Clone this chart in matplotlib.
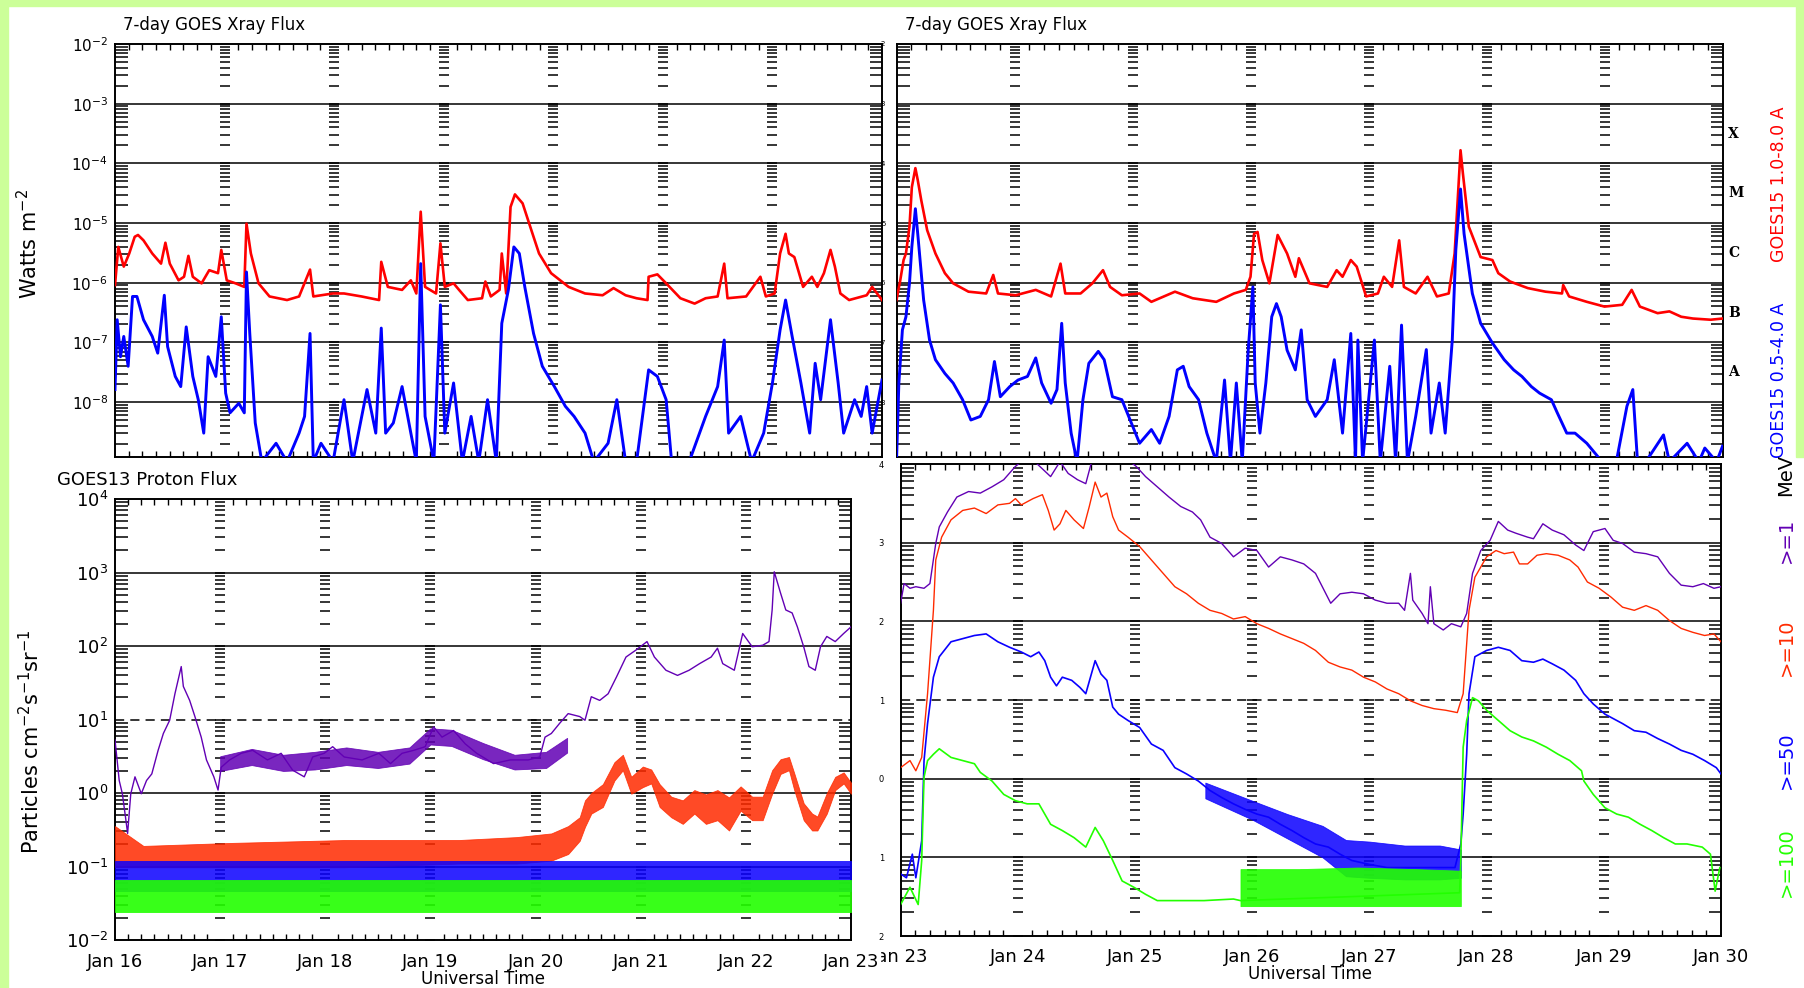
import numpy as np
import matplotlib.pyplot as plt
from matplotlib.patches import Rectangle
from matplotlib.ticker import FixedLocator, MultipleLocator

# (days since panel start, log10 of flux)
tl_red = [(0, -6.04), (0.03, -5.40), (0.08, -5.73), (0.13, -5.51), (0.18, -5.23), (0.21, -5.20),
          (0.26, -5.29), (0.34, -5.51), (0.42, -5.68), (0.46, -5.33), (0.50, -5.68), (0.58, -5.96),
          (0.63, -5.90), (0.67, -5.55), (0.71, -5.90), (0.79, -6.01), (0.86, -5.79), (0.94, -5.84),
          (0.97, -5.45), (1.02, -5.96), (1.10, -6.01), (1.18, -6.07), (1.20, -5.01), (1.24, -5.51),
          (1.31, -6.01), (1.41, -6.23), (1.57, -6.29), (1.68, -6.23), (1.78, -5.78), (1.81, -6.23),
          (1.99, -6.18), (2.09, -6.18), (2.25, -6.23), (2.41, -6.29), (2.43, -5.65), (2.49, -6.07),
          (2.62, -6.12), (2.70, -5.96), (2.75, -6.18), (2.79, -4.81), (2.83, -6.07), (2.93, -6.18),
          (2.97, -5.34), (3.01, -6.07), (3.09, -6.01), (3.14, -6.12), (3.22, -6.29), (3.35, -6.26),
          (3.38, -5.98), (3.43, -6.23), (3.51, -6.12), (3.53, -5.51), (3.57, -6.18), (3.61, -4.73),
          (3.65, -4.52), (3.72, -4.67), (3.80, -5.12), (3.87, -5.51), (3.98, -5.84), (4.14, -6.07),
          (4.29, -6.18), (4.45, -6.21), (4.55, -6.09), (4.66, -6.21), (4.76, -6.26), (4.86, -6.29),
          (4.87, -5.90), (4.95, -5.86), (5.03, -6.01), (5.16, -6.26), (5.29, -6.35), (5.39, -6.26),
          (5.50, -6.23), (5.56, -5.68), (5.59, -6.26), (5.76, -6.23), (5.89, -5.90), (5.94, -6.23),
          (6.02, -6.18), (6.07, -5.51), (6.12, -5.18), (6.15, -5.51), (6.20, -5.57), (6.28, -6.07),
          (6.36, -5.90), (6.41, -6.07), (6.47, -5.84), (6.53, -5.45), (6.57, -5.73), (6.62, -6.18),
          (6.70, -6.29), (6.86, -6.21), (6.91, -6.07), (7.0, -6.29)]

tl_blue = [(0, -7.79), (0.02, -6.62), (0.05, -7.24), (0.08, -6.90), (0.12, -7.40), (0.16, -6.23),
           (0.20, -6.23), (0.26, -6.62), (0.34, -6.90), (0.39, -7.18), (0.45, -6.21), (0.48, -7.07),
           (0.55, -7.57), (0.60, -7.74), (0.65, -6.74), (0.71, -7.57), (0.76, -7.96), (0.81, -8.52),
           (0.85, -7.24), (0.92, -7.57), (0.97, -6.57), (1.01, -7.85), (1.05, -8.18), (1.13, -8.02),
           (1.18, -8.18), (1.20, -5.82), (1.23, -6.85), (1.28, -8.35), (1.34, -9.0), (1.47, -8.69),
           (1.57, -9.0), (1.68, -8.52), (1.73, -8.24), (1.78, -6.85), (1.81, -9.0), (1.88, -8.69),
           (1.99, -9.0), (2.09, -7.96), (2.17, -9.0), (2.30, -7.79), (2.38, -8.52), (2.43, -6.76),
           (2.47, -8.52), (2.54, -8.35), (2.62, -7.74), (2.70, -8.52), (2.75, -9.0), (2.79, -5.68),
           (2.83, -8.24), (2.91, -9.0), (2.97, -6.37), (3.01, -8.52), (3.09, -7.68), (3.17, -9.0),
           (3.25, -8.24), (3.32, -9.0), (3.40, -7.96), (3.48, -9.0), (3.53, -6.68), (3.59, -6.12),
           (3.64, -5.40), (3.69, -5.51), (3.74, -6.07), (3.82, -6.85), (3.90, -7.40), (4.01, -7.74),
           (4.11, -8.07), (4.19, -8.24), (4.29, -8.52), (4.37, -9.0), (4.50, -8.69), (4.58, -7.96),
           (4.66, -9.0), (4.76, -9.0), (4.87, -7.46), (4.95, -7.57), (5.03, -7.96), (5.08, -9.0),
           (5.24, -9.0), (5.39, -8.24), (5.50, -7.74), (5.56, -6.96), (5.60, -8.52), (5.71, -8.24),
           (5.81, -9.0), (5.92, -8.52), (6.00, -7.68), (6.07, -6.79), (6.12, -6.29), (6.18, -6.90),
           (6.26, -7.68), (6.34, -8.52), (6.39, -7.35), (6.44, -7.96), (6.53, -6.62), (6.60, -7.68),
           (6.65, -8.52), (6.75, -7.96), (6.81, -8.24), (6.86, -7.74), (6.91, -8.52), (7.0, -7.63)]

tr_red = [(0, -6.29), (0.03, -5.98), (0.06, -5.62), (0.08, -5.51), (0.11, -5.06), (0.13, -4.40),
          (0.16, -4.08), (0.18, -4.28), (0.21, -4.62), (0.26, -5.12), (0.33, -5.51), (0.41, -5.84),
          (0.48, -6.01), (0.61, -6.15), (0.76, -6.18), (0.82, -5.87), (0.86, -6.18), (1.01, -6.21),
          (1.18, -6.12), (1.31, -6.23), (1.39, -5.68), (1.43, -6.18), (1.56, -6.18), (1.66, -6.01),
          (1.75, -5.79), (1.81, -6.07), (1.91, -6.21), (2.06, -6.18), (2.16, -6.32), (2.36, -6.15),
          (2.51, -6.26), (2.71, -6.32), (2.86, -6.18), (2.96, -6.12), (3.00, -5.90), (3.03, -5.18),
          (3.06, -5.15), (3.10, -5.62), (3.16, -6.01), (3.23, -5.20), (3.31, -5.51), (3.38, -5.90),
          (3.41, -5.59), (3.50, -6.01), (3.65, -6.07), (3.73, -5.79), (3.78, -5.90), (3.85, -5.62),
          (3.90, -5.73), (3.98, -6.23), (4.08, -6.18), (4.13, -5.90), (4.20, -6.07), (4.26, -5.29),
          (4.30, -6.07), (4.40, -6.18), (4.50, -5.90), (4.58, -6.23), (4.68, -6.18), (4.73, -5.51),
          (4.78, -3.78), (4.80, -4.17), (4.85, -5.06), (4.95, -5.57), (5.05, -5.62), (5.10, -5.84),
          (5.20, -5.98), (5.35, -6.09), (5.50, -6.15), (5.64, -6.18), (5.65, -6.04), (5.70, -6.23),
          (5.85, -6.32), (6.00, -6.40), (6.15, -6.37), (6.23, -6.12), (6.30, -6.40), (6.45, -6.51),
          (6.55, -6.48), (6.65, -6.57), (6.75, -6.60), (6.90, -6.62), (7.0, -6.60)]

tr_blue = [(0, -9.0), (0.02, -7.68), (0.05, -6.79), (0.08, -6.57), (0.11, -6.01), (0.13, -5.40),
           (0.16, -4.76), (0.18, -5.18), (0.23, -6.29), (0.28, -6.96), (0.33, -7.29), (0.41, -7.52),
           (0.48, -7.68), (0.56, -7.96), (0.63, -8.30), (0.71, -8.24), (0.78, -7.96), (0.83, -7.32),
           (0.88, -7.91), (0.96, -7.74), (1.03, -7.63), (1.11, -7.57), (1.18, -7.26), (1.23, -7.68),
           (1.31, -8.02), (1.36, -7.79), (1.40, -6.68), (1.43, -7.68), (1.48, -8.52), (1.53, -9.0),
           (1.58, -7.96), (1.63, -7.35), (1.71, -7.15), (1.76, -7.29), (1.83, -7.91), (1.91, -7.96),
           (1.98, -8.30), (2.06, -8.69), (2.16, -8.46), (2.23, -8.69), (2.31, -8.24), (2.38, -7.46),
           (2.43, -7.40), (2.48, -7.74), (2.56, -7.96), (2.63, -8.52), (2.71, -9.0), (2.78, -7.63),
           (2.83, -9.0), (2.88, -7.68), (2.93, -9.0), (2.98, -7.15), (3.02, -6.07), (3.04, -7.68),
           (3.08, -8.52), (3.13, -7.68), (3.18, -6.57), (3.22, -6.35), (3.26, -6.57), (3.31, -7.13),
           (3.38, -7.46), (3.43, -6.79), (3.48, -7.96), (3.55, -8.24), (3.65, -7.96), (3.71, -7.29),
           (3.78, -8.52), (3.85, -6.85), (3.89, -9.0), (3.91, -6.96), (3.95, -9.0), (4.05, -6.96),
           (4.10, -9.0), (4.18, -7.40), (4.23, -9.0), (4.28, -6.71), (4.33, -9.0), (4.40, -8.24),
           (4.49, -7.12), (4.53, -8.52), (4.60, -7.68), (4.65, -8.52), (4.71, -6.96), (4.74, -5.45),
           (4.78, -4.43), (4.81, -5.18), (4.88, -6.18), (4.95, -6.68), (5.05, -7.01), (5.15, -7.29),
           (5.23, -7.46), (5.30, -7.57), (5.38, -7.74), (5.45, -7.85), (5.55, -7.96), (5.60, -8.18),
           (5.68, -8.52), (5.75, -8.52), (5.85, -8.69), (5.98, -9.0), (6.10, -9.0), (6.19, -8.07),
           (6.24, -7.79), (6.28, -9.0), (6.35, -9.0), (6.50, -8.55), (6.55, -9.0), (6.70, -8.69),
           (6.80, -9.0), (6.85, -8.77), (6.95, -9.0), (7.0, -8.74)]

bl_purple = [(0, 0.72), (0.02, 0.45), (0.04, 0.17), (0.07, -0.01), (0.10, -0.33), (0.12, -0.55),
             (0.15, -0.01), (0.19, 0.22), (0.25, -0.01), (0.30, 0.17), (0.35, 0.26), (0.41, 0.58),
             (0.46, 0.81), (0.52, 0.99), (0.57, 1.35), (0.63, 1.72), (0.65, 1.45), (0.71, 1.26),
             (0.76, 1.04), (0.82, 0.76), (0.87, 0.45), (0.94, 0.22), (0.98, 0.04), (1.01, 0.35),
             (1.09, 0.45), (1.20, 0.54), (1.31, 0.58), (1.45, 0.45), (1.58, 0.54), (1.69, 0.31),
             (1.80, 0.22), (1.88, 0.49), (1.99, 0.54), (2.07, 0.63), (2.18, 0.49), (2.35, 0.45),
             (2.51, 0.54), (2.62, 0.40), (2.73, 0.54), (2.84, 0.58), (2.95, 0.63), (3.03, 0.90),
             (3.11, 0.76), (3.22, 0.85), (3.33, 0.67), (3.44, 0.54), (3.60, 0.40), (3.76, 0.45),
             (3.93, 0.45), (4.04, 0.49), (4.09, 0.76), (4.15, 0.81), (4.23, 0.95), (4.31, 1.08),
             (4.42, 1.04), (4.47, 0.99), (4.53, 1.31), (4.61, 1.26), (4.69, 1.35), (4.77, 1.58),
             (4.86, 1.85), (4.96, 1.95), (5.06, 2.06), (5.13, 1.85), (5.24, 1.67), (5.35, 1.60),
             (5.46, 1.67), (5.56, 1.76), (5.67, 1.85), (5.73, 1.97), (5.78, 1.76), (5.89, 1.67),
             (5.97, 2.17), (6.06, 1.99), (6.16, 2.01), (6.22, 2.06), (6.25, 2.49), (6.27, 3.01),
             (6.33, 2.72), (6.38, 2.49), (6.44, 2.45), (6.49, 2.26), (6.55, 1.99), (6.60, 1.72),
             (6.66, 1.67), (6.71, 1.99), (6.77, 2.13), (6.85, 2.06), (6.93, 2.17), (7.0, 2.26)]

# noisy stretches of the proton traces: (day, low, high) in log10
bl_purple_band = [(1.0, 0.30, 0.50), (1.3, 0.38, 0.60), (1.6, 0.30, 0.52), (1.9, 0.32, 0.56),
                  (2.2, 0.38, 0.62), (2.5, 0.34, 0.56), (2.8, 0.40, 0.62), (3.0, 0.66, 0.88),
                  (3.2, 0.64, 0.86), (3.5, 0.46, 0.68), (3.8, 0.32, 0.52), (4.1, 0.34, 0.56),
                  (4.3, 0.55, 0.75)]

bl_red_band = [(0, -1.01, -0.45), (0.27, -1.01, -0.72), (1.09, -1.01, -0.68), (2.18, -1.01, -0.64),
               (3.27, -0.96, -0.64), (3.82, -0.96, -0.60), (4.15, -0.92, -0.55), (4.31, -0.83, -0.45),
               (4.42, -0.65, -0.33), (4.47, -0.46, -0.10), (4.53, -0.28, 0.00), (4.64, -0.19, 0.12),
               (4.75, 0.17, 0.42), (4.83, 0.31, 0.52), (4.91, -0.01, 0.22), (5.02, 0.08, 0.36),
               (5.10, 0.13, 0.32), (5.18, -0.19, 0.12), (5.29, -0.33, -0.05), (5.40, -0.42, -0.10),
               (5.51, -0.28, 0.04), (5.62, -0.42, -0.02), (5.73, -0.37, 0.04), (5.84, -0.51, -0.06),
               (5.95, -0.24, 0.09), (6.06, -0.37, -0.05), (6.16, -0.37, -0.05), (6.25, -0.01, 0.31),
               (6.33, 0.26, 0.46), (6.41, 0.31, 0.49), (6.46, 0.04, 0.27), (6.55, -0.37, -0.14),
               (6.63, -0.51, -0.28), (6.68, -0.51, -0.32), (6.77, -0.28, 0.00), (6.85, 0.04, 0.22),
               (6.93, 0.13, 0.28), (7.0, -0.01, 0.14)]

bl_blue_band = [(0, -1.33, -0.92), (3.5, -1.33, -0.92), (7.0, -1.33, -0.92)]
bl_green_band = [(0, -1.62, -1.19), (3.5, -1.62, -1.19), (7.0, -1.62, -1.19)]

br_purple = [(0, 2.23), (0.03, 2.48), (0.08, 2.42), (0.13, 2.44), (0.20, 2.42), (0.25, 2.48),
             (0.30, 2.99), (0.33, 3.20), (0.40, 3.39), (0.48, 3.58), (0.58, 3.65), (0.68, 3.63),
             (0.78, 3.71), (0.88, 3.80), (0.98, 3.97), (1.03, 4.03), (1.13, 4.05), (1.28, 3.84),
             (1.36, 4.03), (1.43, 3.88), (1.51, 3.80), (1.58, 3.75), (1.63, 4.03), (1.73, 4.05),
             (1.94, 4.05), (2.01, 3.97), (2.09, 3.84), (2.19, 3.71), (2.29, 3.58), (2.39, 3.46),
             (2.49, 3.39), (2.56, 3.29), (2.64, 3.07), (2.74, 2.99), (2.84, 2.82), (2.94, 2.93),
             (3.04, 2.90), (3.14, 2.69), (3.24, 2.82), (3.34, 2.78), (3.44, 2.73), (3.54, 2.61),
             (3.67, 2.23), (3.75, 2.35), (3.85, 2.37), (3.95, 2.35), (4.05, 2.27), (4.15, 2.23),
             (4.25, 2.23), (4.30, 2.14), (4.35, 2.61), (4.37, 2.27), (4.45, 2.10), (4.50, 1.97),
             (4.52, 2.44), (4.55, 1.97), (4.63, 1.89), (4.70, 1.97), (4.78, 1.93), (4.83, 2.10),
             (4.88, 2.61), (4.95, 2.90), (5.03, 3.03), (5.10, 3.27), (5.18, 3.16), (5.25, 3.12),
             (5.35, 3.07), (5.40, 3.05), (5.48, 3.24), (5.56, 3.16), (5.66, 3.10), (5.76, 2.97),
             (5.83, 2.90), (5.91, 3.14), (6.01, 3.18), (6.08, 3.03), (6.16, 2.99), (6.26, 2.88),
             (6.36, 2.86), (6.46, 2.82), (6.56, 2.61), (6.66, 2.46), (6.76, 2.44), (6.85, 2.48),
             (6.94, 2.42), (7.0, 2.44)]

br_red = [(0, 0.14), (0.08, 0.23), (0.13, 0.10), (0.18, 0.27), (0.23, 1.08), (0.28, 2.14),
          (0.30, 2.78), (0.35, 3.07), (0.43, 3.29), (0.53, 3.41), (0.63, 3.44), (0.73, 3.37),
          (0.83, 3.48), (0.93, 3.50), (0.98, 3.56), (1.03, 3.48), (1.13, 3.56), (1.21, 3.61),
          (1.26, 3.41), (1.31, 3.16), (1.36, 3.24), (1.41, 3.41), (1.48, 3.29), (1.56, 3.18),
          (1.61, 3.46), (1.66, 3.77), (1.71, 3.58), (1.76, 3.63), (1.81, 3.33), (1.86, 3.16),
          (1.94, 3.07), (2.04, 2.95), (2.14, 2.78), (2.24, 2.61), (2.34, 2.44), (2.44, 2.35),
          (2.54, 2.23), (2.64, 2.14), (2.74, 2.10), (2.84, 2.03), (2.94, 2.06), (3.04, 1.97),
          (3.14, 1.91), (3.24, 1.84), (3.34, 1.78), (3.44, 1.72), (3.54, 1.63), (3.65, 1.48),
          (3.75, 1.42), (3.85, 1.38), (3.95, 1.29), (4.05, 1.23), (4.15, 1.14), (4.25, 1.08),
          (4.35, 0.99), (4.45, 0.93), (4.55, 0.89), (4.65, 0.87), (4.75, 0.84), (4.80, 1.08),
          (4.85, 2.14), (4.90, 2.56), (4.95, 2.69), (5.00, 2.82), (5.08, 2.90), (5.15, 2.86),
          (5.23, 2.88), (5.28, 2.73), (5.35, 2.73), (5.43, 2.84), (5.51, 2.86), (5.61, 2.84),
          (5.71, 2.78), (5.78, 2.69), (5.86, 2.50), (5.96, 2.42), (6.06, 2.31), (6.16, 2.18),
          (6.26, 2.14), (6.36, 2.20), (6.46, 2.14), (6.56, 2.01), (6.66, 1.91), (6.76, 1.86),
          (6.86, 1.82), (6.94, 1.84), (7.0, 1.74)]

br_blue = [(0, -1.21), (0.05, -1.26), (0.10, -0.96), (0.13, -1.26), (0.18, -0.79), (0.20, 0.23),
           (0.23, 0.70), (0.28, 1.29), (0.33, 1.55), (0.43, 1.74), (0.53, 1.78), (0.63, 1.82),
           (0.73, 1.84), (0.83, 1.74), (0.93, 1.67), (1.03, 1.61), (1.11, 1.55), (1.18, 1.61),
           (1.23, 1.50), (1.28, 1.29), (1.33, 1.18), (1.38, 1.29), (1.46, 1.25), (1.53, 1.16),
           (1.58, 1.08), (1.66, 1.50), (1.71, 1.33), (1.76, 1.25), (1.81, 0.91), (1.86, 0.82),
           (1.94, 0.74), (2.04, 0.65), (2.14, 0.44), (2.24, 0.36), (2.34, 0.14), (2.44, 0.06),
           (2.54, -0.03), (2.64, -0.15), (2.74, -0.24), (2.84, -0.32), (2.94, -0.39), (3.04, -0.45),
           (3.14, -0.49), (3.24, -0.58), (3.34, -0.66), (3.44, -0.75), (3.54, -0.83), (3.65, -0.87),
           (3.75, -0.96), (3.85, -1.04), (4.00, -1.09), (4.15, -1.13), (4.35, -1.13), (4.55, -1.13),
           (4.73, -1.13), (4.78, -0.83), (4.80, -0.45), (4.83, 0.31), (4.85, 1.08), (4.90, 1.55),
           (5.00, 1.63), (5.10, 1.67), (5.20, 1.63), (5.30, 1.50), (5.40, 1.48), (5.48, 1.52),
           (5.56, 1.46), (5.66, 1.38), (5.76, 1.25), (5.83, 1.08), (5.91, 0.95), (6.01, 0.82),
           (6.16, 0.70), (6.26, 0.61), (6.36, 0.59), (6.46, 0.51), (6.56, 0.44), (6.66, 0.36),
           (6.76, 0.31), (6.86, 0.23), (6.96, 0.14), (7.0, 0.06)]

br_green = [(0, -1.60), (0.08, -1.38), (0.15, -1.60), (0.18, -1.04), (0.20, 0.02), (0.23, 0.23),
            (0.28, 0.31), (0.33, 0.38), (0.43, 0.27), (0.53, 0.23), (0.63, 0.19), (0.68, 0.08),
            (0.78, -0.03), (0.88, -0.20), (0.98, -0.28), (1.08, -0.32), (1.18, -0.32), (1.28, -0.58),
            (1.38, -0.66), (1.48, -0.75), (1.58, -0.87), (1.66, -0.62), (1.73, -0.79), (1.81, -1.04),
            (1.89, -1.30), (1.99, -1.38), (2.09, -1.47), (2.19, -1.55), (2.34, -1.55), (2.59, -1.55),
            (2.84, -1.53), (2.90, -1.55), (4.77, -1.45), (4.78, -1.04), (4.80, 0.40), (4.83, 0.74),
            (4.88, 1.03), (4.93, 0.99), (5.00, 0.87), (5.10, 0.74), (5.20, 0.61), (5.30, 0.53),
            (5.40, 0.48), (5.51, 0.40), (5.61, 0.31), (5.71, 0.23), (5.81, 0.10), (5.83, -0.03),
            (5.91, -0.20), (6.01, -0.37), (6.11, -0.45), (6.21, -0.49), (6.31, -0.58), (6.41, -0.66),
            (6.51, -0.75), (6.61, -0.83), (6.71, -0.83), (6.84, -0.87), (6.91, -0.96), (6.95, -1.43),
            (6.99, -1.13)]

br_blue_band = [(2.6, -0.25, -0.05), (3.0, -0.52, -0.28), (3.3, -0.76, -0.45), (3.6, -1.00, -0.60),
                (3.8, -1.24, -0.78), (4.0, -1.26, -0.80), (4.3, -1.28, -0.85), (4.6, -1.28, -0.85),
                (4.78, -1.26, -0.90)]
br_green_band = [(2.90, -1.62, -1.15), (3.4, -1.62, -1.15), (3.9, -1.62, -1.13), (4.4, -1.62, -1.15),
                 (4.78, -1.62, -1.17)]

days_left = ['Jan 16', 'Jan 17', 'Jan 18', 'Jan 19', 'Jan 20', 'Jan 21', 'Jan 22', 'Jan 23']
days_right = ['Jan 23', 'Jan 24', 'Jan 25', 'Jan 26', 'Jan 27', 'Jan 28', 'Jan 29', 'Jan 30']
xray_exps = [-2, -3, -4, -5, -6, -7, -8]
proton_exps = [4, 3, 2, 1, 0, -1, -2]
classes = ['X', 'M', 'C', 'B', 'A']
class_exps = [-3.5, -4.5, -5.5, -6.5, -7.5]

RED, BLUE = '#ff0000', '#0000ff'
P_PURPLE, P_RED, P_BLUE, P_GREEN = '#6200b4', '#ff2a00', '#0a00ff', '#22ff00'
GREEN_BG = '#ccff99'

W, H = 1804, 988


def box(x0, y0, x1, y1):
    return [x0 / W, 1 - y1 / H, (x1 - x0) / W, (y1 - y0) / H]


def ftext(x, y, s, **kw):
    fig.text(x / W, 1 - y / H, s, **kw)


def series(data):
    a = np.array(data, dtype=float)
    return a[:, 0], 10 ** a[:, 1]


def band(ax, data, color, alpha=0.9):
    a = np.array(data, dtype=float)
    ax.fill_between(a[:, 0], 10 ** a[:, 1], 10 ** a[:, 2], color=color, lw=0.6,
                    alpha=alpha, zorder=3)


def frame(ax, lo_exp, hi_exp, ylim, dashed_exp=None):
    ax.set_yscale('log')
    ax.set_xlim(0, 7)
    ax.set_ylim(*ylim)
    ax.xaxis.set_major_locator(FixedLocator(range(8)))
    ax.xaxis.set_minor_locator(MultipleLocator(0.125))
    ax.tick_params(which='both', direction='in', top=True, right=True)
    ax.tick_params(axis='x', which='major', length=0, pad=9)
    ax.tick_params(axis='x', which='minor', length=4, width=1.0)
    ax.tick_params(axis='y', which='major', length=0)
    ax.tick_params(axis='y', which='minor', length=9, width=1.1)
    for s in ax.spines.values():
        s.set_linewidth(1.4)
    # decade lines
    for e in range(lo_exp + 1, hi_exp):
        ls = (0, (6, 4)) if e == dashed_exp else '-'
        ax.axhline(10.0 ** e, color='k', lw=1.1, ls=ls, zorder=2)
    # tick columns at every day boundary
    ys = [m * 10.0 ** e for e in range(lo_exp, hi_exp) for m in range(1, 10)]
    for d in range(1, 7):
        ax.plot([d] * len(ys), ys, ls='none', marker='_', ms=7, mew=1.1, color='k', zorder=2)


fig = plt.figure(figsize=(18.04, 9.88), dpi=100)
fig.patch.set_facecolor('white')
for r in [(0, 0, 8, H), (0, 0, W, 6), (1796, 0, 8, 457)]:
    fig.add_artist(Rectangle((r[0] / W, 1 - (r[1] + r[3]) / H), r[2] / W, r[3] / H,
                             transform=fig.transFigure, color=GREEN_BG, zorder=-5))

ax_br = fig.add_axes(box(900.6, 464, 1721, 936))
ax_tr = fig.add_axes(box(896.5, 44, 1722.5, 457))
ax_bl = fig.add_axes(box(115, 499, 851, 940))
ax_tl = fig.add_axes(box(115, 44, 882, 457))

xlim_xray = (10 ** -8.92, 1e-2)
for ax in (ax_tl, ax_tr):
    frame(ax, -9, -2, xlim_xray)
    ax.set_xticklabels([])
    ax.set_yticks([10.0 ** e for e in xray_exps])
for ax in (ax_bl, ax_br):
    frame(ax, -2, 4, (1e-2, 1e4), dashed_exp=1)
    ax.set_yticks([10.0 ** e for e in proton_exps])

ax_tl.set_yticklabels(['$10^{%d}$' % e for e in xray_exps], fontsize=11)
ax_tl.tick_params(axis='y', which='major', pad=5)
ax_tr.set_yticklabels([str(-e) for e in xray_exps], fontsize=5)
ax_tr.tick_params(axis='y', which='major', pad=8)
ax_bl.set_yticklabels(['$10^{%d}$' % e for e in proton_exps], fontsize=13)
ax_bl.tick_params(axis='y', which='major', pad=5)
ax_br.set_yticklabels([str(abs(e)) for e in proton_exps], fontsize=6)
ax_br.tick_params(axis='y', which='major', pad=12)
ax_bl.set_xticklabels(days_left, fontsize=13)
ax_br.set_xticklabels(days_right, fontsize=13)

# X-ray traces
for ax, r, b in ((ax_tl, tl_red, tl_blue), (ax_tr, tr_red, tr_blue)):
    ax.plot(*series(r), color=RED, lw=1.9, zorder=3)
    ax.plot(*series(b), color=BLUE, lw=2.1, zorder=3)

for c, e in zip(classes, class_exps):
    ax_tr.text(1.007, 10 ** e, c, transform=ax_tr.get_yaxis_transform(), ha='left', va='center',
               fontsize=10, fontweight='bold', family='DejaVu Serif')

# proton traces, left week
ax_bl.plot(*series(bl_purple), color=P_PURPLE, lw=1.0, zorder=3)
band(ax_bl, bl_purple_band, P_PURPLE, alpha=0.85)
band(ax_bl, bl_red_band, P_RED, alpha=0.85)
band(ax_bl, bl_blue_band, P_BLUE, alpha=0.85)
band(ax_bl, bl_green_band, P_GREEN, alpha=0.9)

# proton traces, right week
ax_br.plot(*series(br_purple), color=P_PURPLE, lw=1.0, zorder=3)
ax_br.plot(*series(br_red), color=P_RED, lw=1.0, zorder=3)
ax_br.plot(*series(br_blue), color=P_BLUE, lw=1.2, zorder=3)
band(ax_br, br_blue_band, P_BLUE, alpha=0.85)
ax_br.plot(*series(br_green), color=P_GREEN, lw=1.2, zorder=3)
band(ax_br, br_green_band, P_GREEN, alpha=0.9)

# the left image hides the start of the right "Jan 23" label
ax_bl.add_patch(Rectangle((853 / W, 1 - 975 / H), 27 / W, 33 / H, transform=fig.transFigure,
                          color='white', clip_on=False, zorder=0.5))

ftext(123, 25, '7-day GOES Xray Flux', fontsize=12, va='center')
ftext(905, 25, '7-day GOES Xray Flux', fontsize=12, va='center')
ftext(57, 480, 'GOES13 Proton Flux', fontsize=13, va='center')
ftext(29, 244, 'Watts m$^{-2}$', fontsize=15, rotation=90, ha='center', va='center')
ftext(31, 742, 'Particles cm$^{-2}$s$^{-1}$sr$^{-1}$', fontsize=15, rotation=90,
      ha='center', va='center')
ftext(483, 979, 'Universal Time', fontsize=12, ha='center', va='center')
ftext(1310, 974, 'Universal Time', fontsize=12, ha='center', va='center')

ftext(1779, 184, 'GOES15 1.0-8.0 A', color=RED, fontsize=12.5, rotation=90, ha='center', va='center')
ftext(1779, 380, 'GOES15 0.5-4.0 A', color=BLUE, fontsize=12.5, rotation=90, ha='center', va='center')
ftext(1786, 475, 'MeV', color='k', fontsize=14, rotation=90, ha='center', va='center')
ftext(1786, 540, '>=1', color=P_PURPLE, fontsize=14, rotation=90, ha='center', va='center')
ftext(1786, 647, '>=10', color=P_RED, fontsize=14, rotation=90, ha='center', va='center')
ftext(1786, 760, '>=50', color=P_BLUE, fontsize=14, rotation=90, ha='center', va='center')
ftext(1786, 862, '>=100', color=P_GREEN, fontsize=14, rotation=90, ha='center', va='center')

fig.savefig('out.png', dpi=100, facecolor=fig.get_facecolor())
